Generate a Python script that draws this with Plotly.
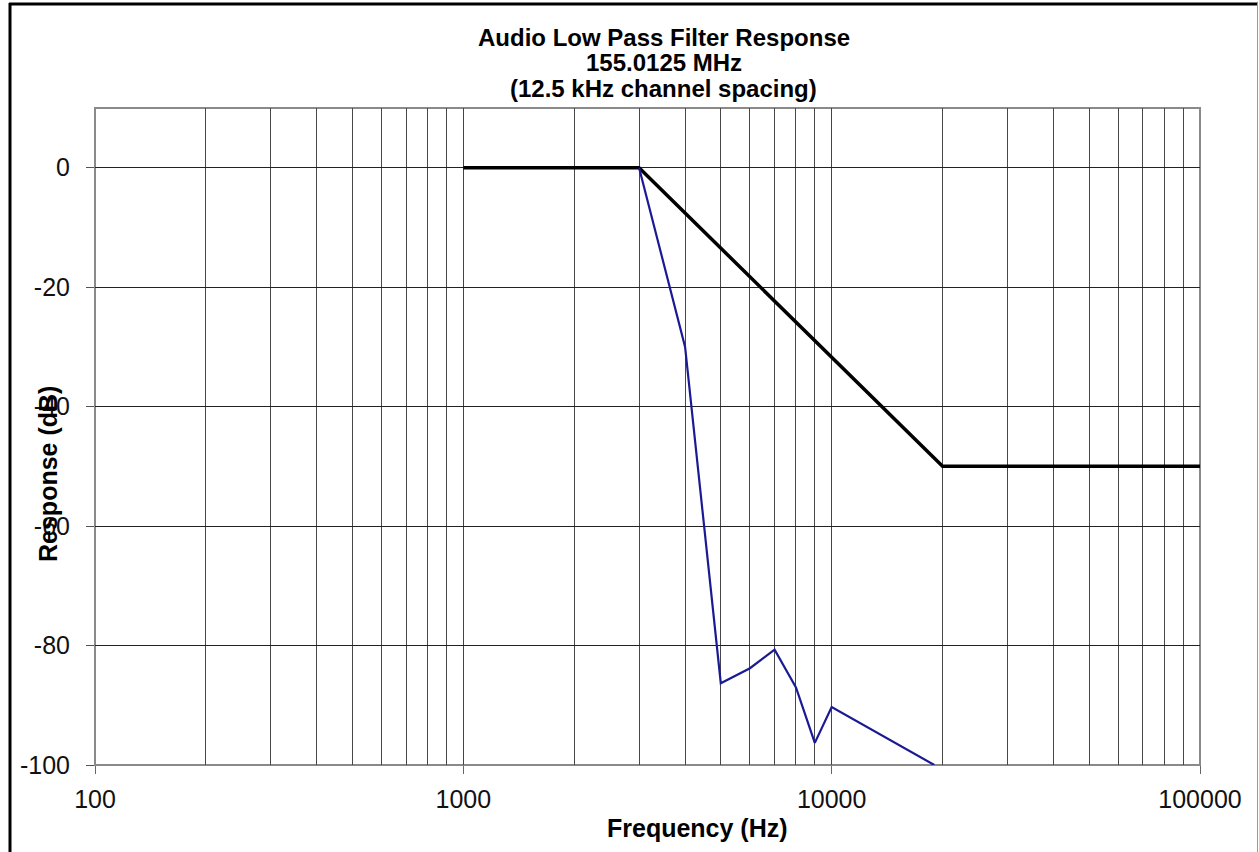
import plotly.graph_objects as go

# Filter mask (limit) and measured response
mask_freq = [1000, 3000, 20000, 100000]
mask_db = [0, 0, -50, -50]

resp_freq = [3000, 4000, 5000, 6000, 7000, 8000, 9000, 10000, 19000]
resp_db = [0, -30, -86.3, -83.8, -80.7, -87, -96.3, -90.3, -100]

decade_ticks = [100, 1000, 10000, 100000]
decade_labels = ["100", "1000", "10000", "100000"]
minor_grid = [m * d for d in (100, 1000, 10000) for m in range(2, 10)]
y_ticks = [0, -20, -40, -60, -80, -100]
y_labels = ["0", "-20", "-40", "-60", "-80", "-100"]

title_lines = ["Audio Low Pass Filter Response", "155.0125 MHz", "(12.5 kHz channel spacing)"]

W, H = 1259, 852
L, R, T, B = 95, 1200, 108, 765
PW, PH = R - L, B - T


def px(x):
    return (x - L) / PW


def py(y):
    return (B - y) / PH


FONT = "Liberation Sans, Arial, sans-serif"

fig = go.Figure()
fig.add_trace(go.Scatter(x=mask_freq, y=mask_db, mode="lines",
                         line=dict(color="#000000", width=3.5), showlegend=False))
fig.add_trace(go.Scatter(x=resp_freq, y=resp_db, mode="lines",
                         line=dict(color="#1a1a94", width=2.2), showlegend=False))

annotations = []
for i, line in enumerate(title_lines):
    annotations.append(dict(text="<b>%s</b>" % line, x=px(664), y=py(37 + 25.5 * i),
                            xref="paper", yref="paper", showarrow=False,
                            xanchor="center", yanchor="middle",
                            font=dict(family=FONT, size=24, color="#000")))
annotations.append(dict(text="<b>Frequency (Hz)</b>", x=px(697), y=py(828),
                        xref="paper", yref="paper", showarrow=False,
                        xanchor="center", yanchor="middle",
                        font=dict(family=FONT, size=25, color="#000")))
annotations.append(dict(text="<b>Response (dB)</b>", x=px(48), y=py(474),
                        xref="paper", yref="paper", showarrow=False, textangle=-90,
                        xanchor="center", yanchor="middle",
                        font=dict(family=FONT, size=25, color="#000")))

shapes = [
    # chart frame
    dict(type="line", xref="paper", yref="paper", x0=px(10), x1=px(10), y0=py(3), y1=py(860),
         line=dict(color="#000", width=3)),
    dict(type="line", xref="paper", yref="paper", x0=px(9), x1=px(1258), y0=py(4), y1=py(4),
         line=dict(color="#000", width=3)),
    dict(type="line", xref="paper", yref="paper", x0=px(1257.5), x1=px(1257.5), y0=py(3), y1=py(860),
         line=dict(color="#999", width=1)),
    # plot-area border
    dict(type="rect", xref="paper", yref="paper", x0=0, x1=1, y0=0, y1=1,
         line=dict(color="#8a8a8a", width=2), layer="below"),
]

fig.update_layout(
    width=W, height=H,
    margin=dict(l=L, r=W - R, t=T, b=H - B),
    paper_bgcolor="#ffffff", plot_bgcolor="#ffffff",
    annotations=annotations, shapes=shapes,
    xaxis=dict(type="log", range=[2, 5], tickvals=decade_ticks, ticktext=decade_labels,
               ticks="outside", ticklen=8, tickcolor="#666", tickwidth=1,
               showgrid=True, gridcolor="#444", gridwidth=1,
               minor=dict(tickvals=minor_grid, showgrid=True, gridcolor="#484848", gridwidth=1, ticks=""),
               showline=False, zeroline=False, ticklabelstandoff=4,
               tickfont=dict(family=FONT, size=25, color="#111")),
    yaxis=dict(range=[-100, 10], tickvals=y_ticks, ticktext=y_labels, ticks="outside", ticklen=8,
               tickcolor="#555", tickwidth=1, showgrid=True, gridcolor="#222", gridwidth=1,
               showline=False, zeroline=False, ticklabelstandoff=11,
               tickfont=dict(family=FONT, size=25, color="#111")),
)

fig.write_html("out.html")
